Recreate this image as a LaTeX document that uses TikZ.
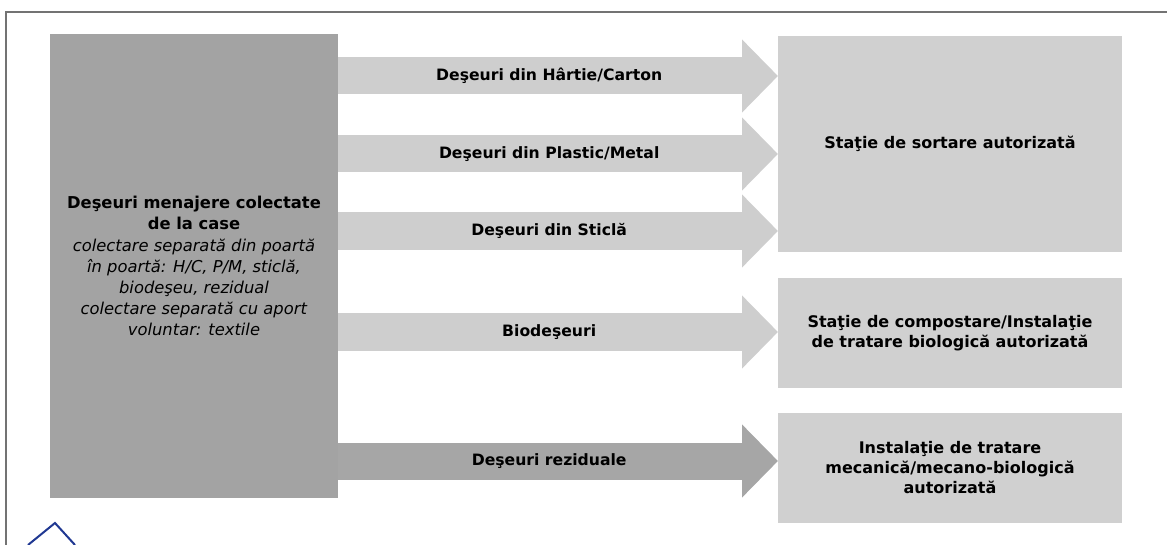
\documentclass[tikz,border=0pt]{standalone}
\usepackage{fontspec}
\setmainfont{DejaVu Sans}
\usepackage{tikz}
\usetikzlibrary{positioning,arrows.meta}
\definecolor{srcgray}{RGB}{163,163,163}
\definecolor{boxgray}{RGB}{208,208,208}
\definecolor{arrowgray}{RGB}{206,206,206}
\definecolor{resgray}{RGB}{166,166,166}
\definecolor{markblue}{RGB}{32,56,146}
\tikzset{srcbox/.style={rectangle, fill=srcgray, inner sep=0pt, outer sep=0pt, align=center,
  minimum width=57.6mm, minimum height=92.8mm, font=\fontsize{9.3}{12}\selectfont}}
\tikzset{destbox/.style={rectangle, fill=boxgray, inner sep=0pt, outer sep=0pt, align=center,
  minimum width=68.8mm, minimum height=#1, font=\bfseries\fontsize{9.1}{11.4}\selectfont},
destbox/.default={22mm}}
\tikzset{flow/.style={draw=#1, line width=7.4mm, -{Triangle[width=14.2mm,length=7.2mm]}},
flow/.default={arrowgray}}
\tikzset{flowlabel/.style={font=\bfseries\fontsize{8.9}{10}\selectfont, text=black}}

\begin{document}
\begin{tikzpicture}[x=0.2mm,y=-0.2mm]
	\useasboundingbox (0,0) rectangle (1167,545);
	\draw[gray!90!black, line width=0.3mm] (6,545) -- (6,12) -- (1167,12);
	% source and destinations
	\node[srcbox] (src) at (194,266) {\textbf{Deşeuri menajere colectate}\\\textbf{de la case}\\
		\textit{colectare separată din poartă}\\\textit{în poartă: H/C, P/M, sticlă,}\\
		\textit{biodeşeu, rezidual}\\\textit{colectare separată cu aport}\\\textit{voluntar: textile}};
	\node[destbox=43.2mm] (sort) at (950,144) {Staţie de sortare autorizată};
	\node[destbox] (compost) at (950,333) {Staţie de compostare/Instalaţie\\de tratare biologică autorizată};
	\node[destbox] (tmb) at (950,468) {Instalaţie de tratare\\mecanică/mecano-biologică\\autorizată};
	% flows
	\draw[flow] (src.east |- 0,76) -- (sort.west |- 0,76) node[flowlabel, pos=0.48] (lhc) {Deşeuri din Hârtie/Carton};
	\draw[flow] (src.east |- 0,154) -- (sort.west |- 0,154) node[flowlabel, pos=0.48] (lpm) {Deşeuri din Plastic/Metal};
	\draw[flow] (src.east |- 0,231) -- (sort.west |- 0,231) node[flowlabel, pos=0.48] (lst) {Deşeuri din Sticlă};
	\draw[flow] (src.east |- 0,332) -- (compost.west |- 0,332) node[flowlabel, pos=0.48] (lbio) {Biodeşeuri};
	\draw[flow=resgray] (src.east |- 0,461) -- (tmb.west |- 0,461) node[flowlabel, pos=0.48] (lrez) {Deşeuri reziduale};
	\draw[markblue, line width=0.4mm] (28,545) -- (55,523) -- (75,545);
\end{tikzpicture}
\end{document}
